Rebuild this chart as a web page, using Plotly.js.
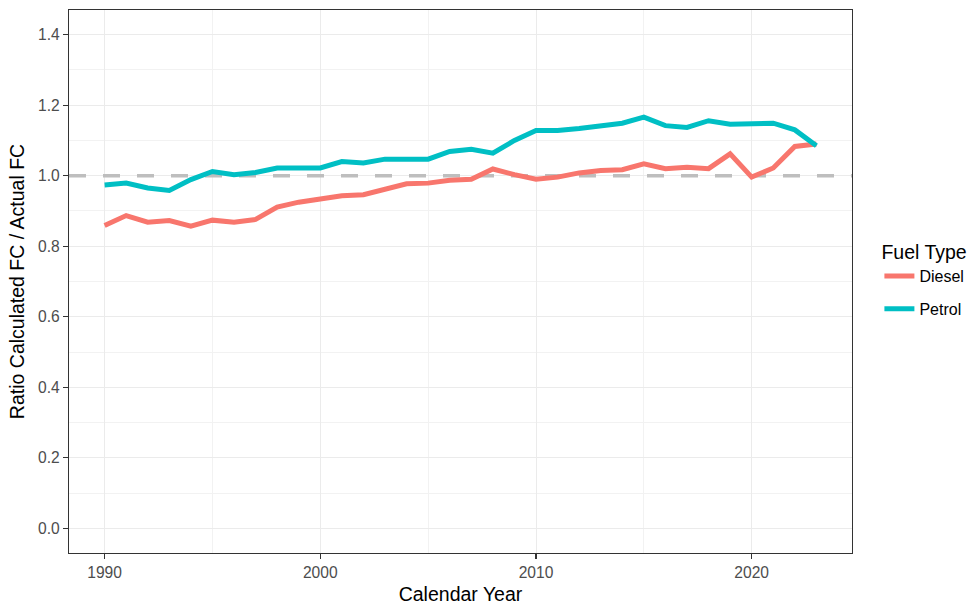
<!DOCTYPE html>
<html>
<head>
<meta charset="utf-8">
<script src="https://cdn.plot.ly/plotly-3.0.1.min.js"></script>
<style>html,body{margin:0;padding:0;background:#fff}#chart{width:979px;height:605px}</style>
</head>
<body>
<div id="chart"></div>
<script>
const years = [1990,1991,1992,1993,1994,1995,1996,1997,1998,1999,2000,2001,2002,2003,2004,2005,2006,2007,2008,2009,2010,2011,2012,2013,2014,2015,2016,2017,2018,2019,2020,2021,2022,2023];
const diesel = [0.859,0.887,0.868,0.873,0.857,0.874,0.868,0.876,0.911,0.925,0.934,0.943,0.946,0.962,0.977,0.979,0.987,0.990,1.019,1.003,0.990,0.996,1.008,1.015,1.017,1.034,1.020,1.024,1.020,1.062,0.996,1.022,1.083,1.090];
const petrol = [0.974,0.979,0.965,0.958,0.989,1.012,1.003,1.009,1.022,1.022,1.022,1.040,1.036,1.047,1.047,1.047,1.069,1.075,1.064,1.100,1.128,1.128,1.134,1.140,1.149,1.166,1.142,1.137,1.156,1.146,1.146,1.149,1.130,1.085];
const refLine = [1, 1];
const xRange = [1988.35, 2024.65];
const yRange = [-0.07, 1.47];
const seriesNames = ["Diesel", "Petrol"];
const xTicks = [1990, 2000, 2010, 2020];
const yTicks = [0, 0.2, 0.4, 0.6, 0.8, 1.0, 1.2, 1.4];

const traces = [
  {x: xRange, y: refLine, mode: "lines", line: {color: "#bebebe", width: 3.5, dash: "17px,17px"}, showlegend: false, hoverinfo: "skip"},
  {x: years, y: diesel, mode: "lines", name: seriesNames[0], legendgroup: "d", line: {color: "#F8766D", width: 5}},
  {x: years, y: petrol, mode: "lines", name: seriesNames[1], legendgroup: "p", line: {color: "#00BFC4", width: 5}}
];

const axisCommon = {
  showline: true, mirror: true, linecolor: "#333333", linewidth: 1.2,
  ticks: "outside", ticklen: 5, tickcolor: "#333333", tickwidth: 1.2,
  gridcolor: "#ebebeb", gridwidth: 1, zeroline: false,
  tickfont: {family: "Arial, Liberation Sans, sans-serif", size: 15.6, color: "#4d4d4d"}
};

const layout = {
  width: 979, height: 605,
  margin: {l: 69, r: 125, t: 9.5, b: 52},
  paper_bgcolor: "#ffffff", plot_bgcolor: "#ffffff",
  font: {family: "Arial, Liberation Sans, sans-serif"},
  xaxis: Object.assign({}, axisCommon, {
    range: xRange, tickvals: xTicks,
    minor: {tickvals: [1995, 2005, 2015], showgrid: true, gridcolor: "#f2f2f2", gridwidth: 1, ticks: ""},
    title: {text: "Calendar Year", font: {size: 19.5, color: "#000000"}, standoff: 8}
  }),
  yaxis: Object.assign({}, axisCommon, {
    range: yRange, tickvals: yTicks, tickformat: ".1f",
    minor: {tickvals: [0.1, 0.3, 0.5, 0.7, 0.9, 1.1, 1.3], showgrid: true, gridcolor: "#f2f2f2", gridwidth: 1, ticks: ""},
    title: {text: "Ratio Calculated FC / Actual FC", font: {size: 19.5, color: "#000000"}, standoff: 8}
  }),
  legend: {
    x: 1.035, y: 0.588, xanchor: "left", yanchor: "top",
    title: {text: "Fuel Type", font: {size: 19.5, color: "#000000"}},
    font: {size: 16, color: "#000000"},
    tracegroupgap: 9
  },
  showlegend: true
};

Plotly.newPlot("chart", traces, layout, {displayModeBar: false, staticPlot: true});
</script>
</body>
</html>
